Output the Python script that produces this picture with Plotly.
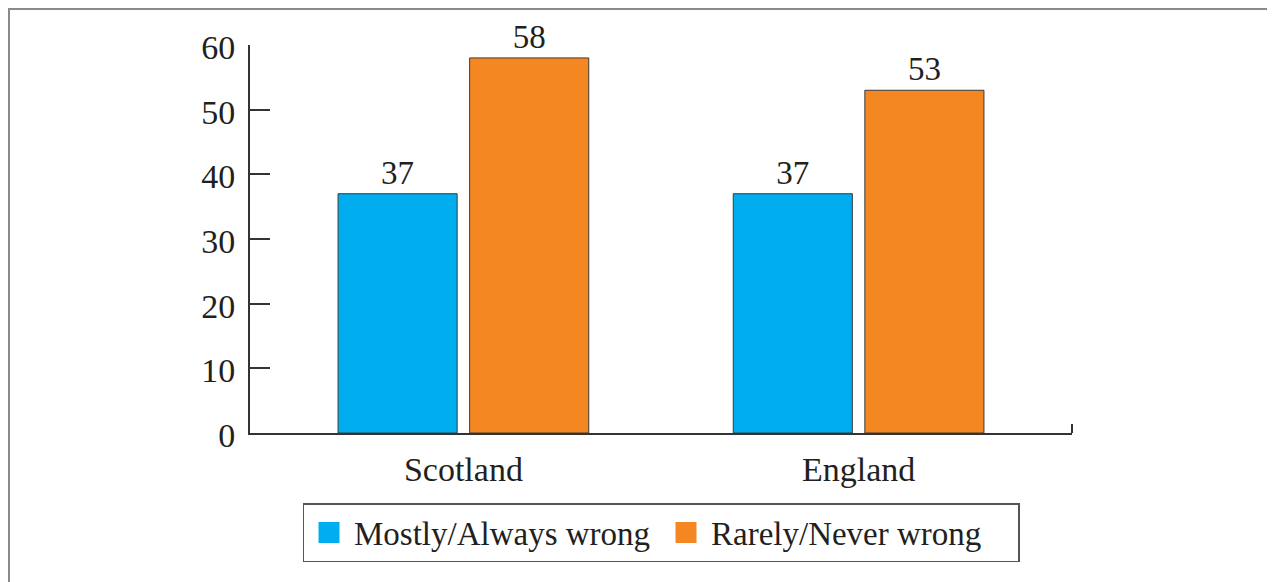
import plotly.graph_objects as go

categories = ["Scotland", "England"]
series_names = ["Mostly/Always wrong", "Rarely/Never wrong"]
mostly_always = [37, 37]
rarely_never = [58, 53]
colors = ["#00aeef", "#f58722"]
y_ticks = [0, 10, 20, 30, 40, 50, 60]

# the page body adds an 8px offset; the figure is sized so it ends at the window edge
OFF = 8
W, H = 1275 - OFF, 582 - OFF
ML, MT = 250 - OFF, 45 - OFF
PW, PH = 822, 388
MR, MB = W - ML - PW, H - MT - PH

FONT = "Liberation Serif"
TXT = "#231f20"

x_pos = list(range(len(categories)))

fig = go.Figure()
for name, vals, col in zip(series_names, [mostly_always, rarely_never], colors):
    fig.add_trace(go.Bar(
        x=x_pos, y=vals, name=name, showlegend=False,
        marker=dict(color=col, line=dict(color="#3a3a3a", width=1)),
        text=[str(v) for v in vals], textposition="outside",
        textfont=dict(family=FONT, size=33, color=TXT),
        cliponaxis=False,
    ))
# legend entries
for name, col in zip(series_names, colors):
    fig.add_trace(go.Scatter(
        x=[None], y=[None], mode="markers", name=name,
        marker=dict(symbol="square", size=16, color=col, line=dict(color=col, width=5)),
    ))

def px_x(p):
    return (p - ML) / PW

def px_y(p):
    return (H - MB - p) / PH

shapes = [
    # right-end tick of x axis
    dict(type="line", xref="paper", yref="y", x0=1, x1=1, y0=0, y1=1.4,
         line=dict(color="#333333", width=2)),
    # outer frame lines (top and left)
    dict(type="line", xref="paper", yref="paper", x0=px_x(0), x1=px_x(W), y0=px_y(1), y1=px_y(1),
         line=dict(color="#8a8a8a", width=2)),
    dict(type="line", xref="paper", yref="paper", x0=px_x(1), x1=px_x(1), y0=px_y(0), y1=px_y(H),
         line=dict(color="#8a8a8a", width=2)),
]

fig.update_layout(
    width=W, height=H,
    margin=dict(l=ML, r=MR, t=MT, b=MB, pad=0),
    paper_bgcolor="white", plot_bgcolor="white",
    barmode="group", bargap=0.334, bargroupgap=0.095,
    font=dict(family=FONT, size=33, color=TXT),
    xaxis=dict(
        range=[-0.54, 1.54], tickvals=x_pos, ticktext=categories,
        showline=True, linecolor="#333333", linewidth=2, ticks="",
        showgrid=False, zeroline=False, fixedrange=True,
        ticklabelstandoff=5,
        tickfont=dict(family=FONT, size=34, color=TXT),
    ),
    yaxis=dict(
        range=[0, 60], tickvals=y_ticks,
        showline=True, linecolor="#333333", linewidth=2,
        ticks="inside", ticklen=20, tickwidth=2, tickcolor="#333333",
        showgrid=False, zeroline=False, ticklabelstandoff=6, ticklabelshift=2,
        tickfont=dict(family=FONT, size=34, color=TXT),
    ),
    legend=dict(
        orientation="h", x=0.5, xanchor="center", y=px_y(503 - OFF), yanchor="top",
        bordercolor="#555555", borderwidth=1.5, bgcolor="white",
        font=dict(family=FONT, size=33, color=TXT),
        itemsizing="trace", tracegroupgap=0, itemwidth=40,
        entrywidthmode="pixels", entrywidth=302,
    ),
    shapes=shapes,
)

fig.write_html("out.html")
